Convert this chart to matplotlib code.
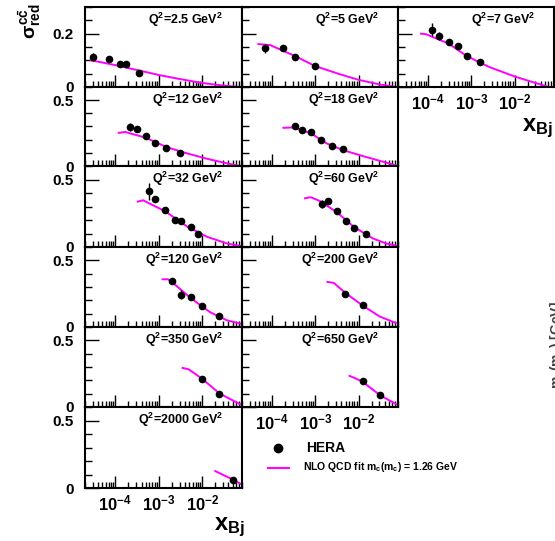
import numpy as np
import matplotlib.pyplot as plt
from matplotlib.ticker import FixedLocator, MultipleLocator, NullFormatter

plt.rcParams['font.family'] = ['Liberation Sans', 'DejaVu Sans']
plt.rcParams['font.weight'] = 'bold'
plt.rcParams['mathtext.fontset'] = 'custom'
plt.rcParams['mathtext.rm'] = 'Liberation Sans:bold'
plt.rcParams['mathtext.it'] = 'Liberation Sans:bold'
plt.rcParams['mathtext.bf'] = 'Liberation Sans:bold'

# DATA
q2_values = ["2.5", "5", "7", "12", "18", "32", "60", "120", "200", "350", "650", "2000"]

hera_x = [
    [3.0e-5, 7.0e-5, 1.3e-4, 1.8e-4, 3.5e-4],
    [6.9e-5, 1.76e-4, 3.4e-4, 9.9e-4],
    [1.25e-4, 1.77e-4, 2.96e-4, 4.84e-4, 7.8e-4, 1.55e-3],
    [2.21e-4, 3.2e-4, 4.97e-4, 8.0e-4, 1.49e-3, 3.0e-3],
    [3.43e-4, 4.9e-4, 7.9e-4, 1.32e-3, 2.48e-3, 4.35e-3],
    [6.05e-4, 8.0e-4, 1.39e-3, 2.39e-3, 3.24e-3, 5.5e-3, 8.1e-3],
    [1.39e-3, 1.97e-3, 3.12e-3, 5.0e-3, 7.96e-3, 1.45e-2],
    [2.04e-3, 3.24e-3, 5.5e-3, 9.8e-3, 2.46e-2],
    [4.94e-3, 1.26e-2],
    [9.8e-3, 2.48e-2],
    [1.26e-2, 3.15e-2],
    [5.08e-2],
]
hera_y = [
    [0.111, 0.105, 0.088, 0.088, 0.053],
    [0.145, 0.148, 0.113, 0.078],
    [0.215, 0.191, 0.169, 0.155, 0.116, 0.093],
    [0.293, 0.280, 0.227, 0.172, 0.134, 0.096],
    [0.305, 0.273, 0.258, 0.195, 0.149, 0.127],
    [0.412, 0.354, 0.273, 0.202, 0.192, 0.147, 0.096],
    [0.321, 0.339, 0.270, 0.195, 0.144, 0.096],
    [0.343, 0.243, 0.226, 0.158, 0.085],
    [0.248, 0.165],
    [0.213, 0.095],
    [0.193, 0.088],
    [0.057],
]
hera_err = [
    [0.015, 0.010, 0.005, 0.005, 0.004],
    [0.018, 0.008, 0.006, 0.005],
    [0.024, 0.015, 0.008, 0.006, 0.005, 0.004],
    [0.030, 0.015, 0.010, 0.008, 0.007, 0.006],
    [0.025, 0.012, 0.010, 0.008, 0.007, 0.006],
    [0.065, 0.020, 0.012, 0.010, 0.008, 0.008, 0.007],
    [0.030, 0.012, 0.012, 0.010, 0.008, 0.007],
    [0.020, 0.035, 0.012, 0.010, 0.008],
    [0.015, 0.010],
    [0.015, 0.010],
    [0.020, 0.010],
    [0.008],
]

fit_x = [
    [2.7e-5, 5e-5, 1.3e-4, 3.5e-4, 1e-3, 3e-3, 1e-2, 2.5e-2, 5e-2, 7.5e-2],
    [4.8e-5, 9e-5, 3.4e-4, 9.7e-4, 3.66e-3, 1.05e-2, 3.0e-2, 7.4e-2],
    [6.8e-5, 8.9e-5, 2.96e-4, 7.8e-4, 2.6e-3, 9.8e-3, 3.07e-2, 6.2e-2],
    [1.19e-4, 1.70e-4, 4.97e-4, 1.55e-3, 4.45e-3, 1.28e-2, 3.70e-2, 7.5e-2],
    [1.82e-4, 3.09e-4, 7.9e-4, 1.81e-3, 4.35e-3, 1.05e-2, 3.04e-2, 7.3e-2],
    [3.26e-4, 4.34e-4, 1.39e-3, 4.45e-3, 1.28e-2, 3.70e-2, 7.5e-2],
    [5.74e-4, 7.76e-4, 1.27e-3, 3.12e-3, 7.96e-3, 2.13e-2, 4.34e-2, 7.6e-2],
    [1.22e-3, 1.63e-3, 2.04e-3, 5.5e-3, 1.53e-2, 3.70e-2, 7.5e-2],
    [1.9e-3, 2.66e-3, 4.94e-3, 1.26e-2, 3.04e-2, 7.3e-2],
    [3.52e-3, 4.84e-3, 9.8e-3, 2.5e-2, 7.5e-2],
    [6.2e-3, 8.1e-3, 1.26e-2, 3.15e-2, 7.6e-2],
    [1.99e-2, 5.08e-2, 8.2e-2],
]
fit_y = [
    [0.100, 0.092, 0.078, 0.062, 0.045, 0.030, 0.015, 0.007, 0.002, 0.000],
    [0.161, 0.157, 0.116, 0.079, 0.048, 0.026, 0.010, 0.000],
    [0.200, 0.198, 0.163, 0.116, 0.075, 0.040, 0.015, 0.000],
    [0.252, 0.258, 0.215, 0.142, 0.096, 0.055, 0.020, 0.000],
    [0.290, 0.293, 0.248, 0.172, 0.121, 0.083, 0.040, 0.005],
    [0.336, 0.346, 0.265, 0.152, 0.076, 0.026, 0.008],
    [0.361, 0.369, 0.341, 0.258, 0.147, 0.064, 0.026, 0.010],
    [0.358, 0.358, 0.335, 0.215, 0.110, 0.050, 0.025],
    [0.338, 0.331, 0.256, 0.160, 0.080, 0.030],
    [0.293, 0.283, 0.213, 0.101, 0.020],
    [0.233, 0.218, 0.188, 0.088, 0.020],
    [0.125, 0.062, 0.025],
]

grid_pos = [(0, 0), (0, 1), (0, 2), (1, 0), (1, 1), (2, 0), (2, 1),
            (3, 0), (3, 1), (4, 0), (4, 1), (5, 0)]

W, H = 555, 541
fig = plt.figure(figsize=(W / 100, H / 100), dpi=100)

col_left = [85, 242, 398]
col_width = [157, 156, 156]
row_top = [7, 87, 166, 247, 327, 407]
row_h = [80, 79, 81, 80, 80, 81]

MAGENTA = "#ff00ff"
xticks = [1e-4, 1e-3, 1e-2]
xticklabels = [r"$10^{-4}$", r"$10^{-3}$", r"$10^{-2}$"]
show_xlabels = {(5, 0), (4, 1), (0, 2)}

for i, (r, c) in enumerate(grid_pos):
    left = col_left[c] / W
    bottom = 1 - (row_top[r] + row_h[r]) / H
    ax = fig.add_axes([left, bottom, col_width[c] / W, row_h[r] / H])
    ax.set_xscale("log")
    ax.set_xlim(2e-5, 0.082)

    if r == 0:
        ax.set_ylim(0, 0.3)
        ax.yaxis.set_major_locator(FixedLocator([0, 0.2]))
        ax.yaxis.set_minor_locator(MultipleLocator(0.05))
    else:
        ax.set_ylim(0, 0.6)
        ax.yaxis.set_major_locator(FixedLocator([0, 0.5]))
        ax.yaxis.set_minor_locator(MultipleLocator(0.1))

    ax.plot(fit_x[i], fit_y[i], color=MAGENTA, lw=1.4, zorder=2)
    ax.errorbar(hera_x[i], hera_y[i], yerr=hera_err[i], fmt="o", color="black",
                ms=4.5, elinewidth=1, capsize=0, zorder=3)

    ax.text(0.88, 0.95, r"Q$^2$=" + q2_values[i] + r" GeV$^2$", transform=ax.transAxes,
            ha="right", va="top", fontsize=9, fontweight="bold")

    for s in ax.spines.values():
        s.set_linewidth(1.5)
    ax.tick_params(which="both", direction="in", top=False, right=False)
    ax.tick_params(axis="y", which="major", length=10, width=1)
    ax.tick_params(axis="y", which="minor", length=5, width=1)
    ax.tick_params(axis="x", which="major", length=9, width=1)
    ax.tick_params(axis="x", which="minor", length=4.5, width=1)

    ax.xaxis.set_major_locator(FixedLocator(xticks))
    if (r, c) in show_xlabels:
        ax.set_xticklabels(xticklabels, fontsize=12, fontweight="bold")
        ax.tick_params(axis="x", which="major", pad=4)
    else:
        ax.xaxis.set_major_formatter(NullFormatter())
    ax.xaxis.set_minor_formatter(NullFormatter())

    if c == 0:
        if r == 0:
            ax.set_yticklabels(["0", "0.2"], fontsize=11, fontweight="bold")
        else:
            ax.set_yticklabels(["0", "0.5"], fontsize=11, fontweight="bold")
        ax.tick_params(axis="y", pad=8)
    else:
        ax.set_yticklabels([])

# axis titles
fig.text(43 / W, 1 - 3 / H, r"$\sigma^{c\bar{c}}_{red}$", rotation=90,
         ha="right", va="top", fontsize=14)
fig.text(245 / W, 1 - 527 / H, r"x$_{Bj}$", ha="right", va="center", fontsize=17)
fig.text(553 / W, 1 - 128 / H, r"x$_{Bj}$", ha="right", va="center", fontsize=17)

# legend
fig.lines.append(plt.Line2D([278 / W], [1 - 448 / H], marker="o", color="black",
                            ms=6, transform=fig.transFigure, figure=fig))
fig.text(306 / W, 1 - 448 / H, "HERA", ha="left", va="center", fontsize=10)
fig.lines.append(plt.Line2D([268 / W, 289 / W], [1 - 467.5 / H, 1 - 467.5 / H],
                            color=MAGENTA, lw=1.5, transform=fig.transFigure, figure=fig))
fig.text(303 / W, 1 - 467.5 / H, r"NLO QCD fit m$_c$(m$_c$) = 1.26 GeV",
         ha="left", va="center", fontsize=7.5)

# clipped label from a neighbouring plot
fig.text(557 / W, 1 - 345 / H, r"m$_c$(m$_c$) [GeV]", rotation=90, ha="center",
         va="center", fontsize=10, color="0.25")

fig.savefig("out.png", dpi=100)
